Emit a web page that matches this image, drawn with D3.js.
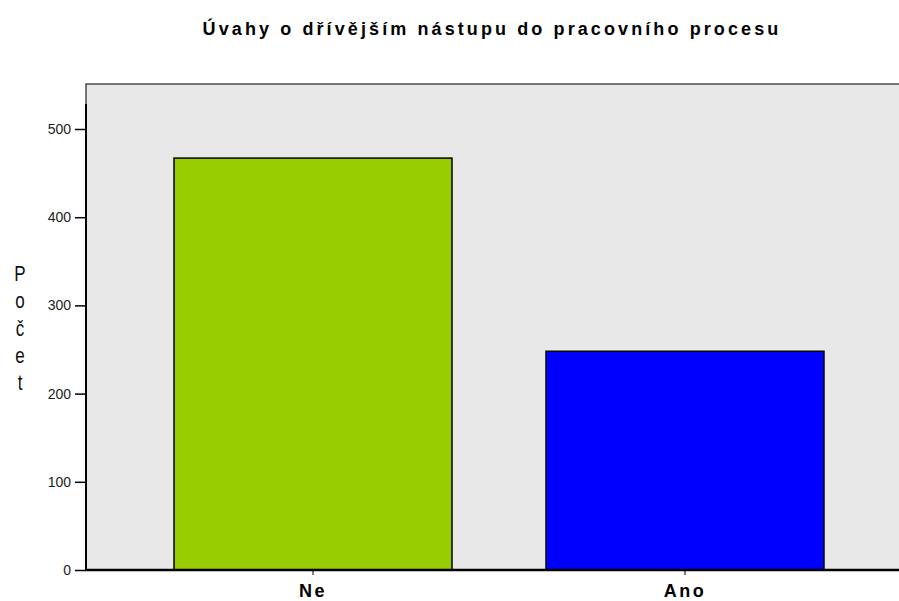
<!DOCTYPE html>
<html lang="cs">
<head>
<meta charset="utf-8">
<title>Úvahy o dřívějším nástupu</title>
<script src="https://d3js.org/d3.v7.min.js"></script>
<style>
  body { margin: 0; background: #fff; }
  text { font-family: "Liberation Sans", Arial, sans-serif; }
</style>
</head>
<body>
<div id="chart"></div>
<script>
// data
var categories = ["Ne", "Ano"];
var counts = [467, 248];
var barColors = ["#99cc00", "#0000ff"];
var yTicks = [0, 100, 200, 300, 400, 500];
var title = "Úvahy o dřívějším nástupu do pracovního procesu";
var yLabel = "Počet";

var w = 899, h = 601;
var mLeft = 86, mTop = 84, mBottom = 570;

var svg = d3.select("#chart").append("svg")
  .attr("width", w)
  .attr("height", h);

// band range runs past the window edge, like the original
var x = d3.scaleBand()
  .domain(categories)
  .range([mLeft, 912])
  .paddingInner(0.2527)
  .paddingOuter(0.2366);

var y = d3.scaleLinear()
  .domain([0, 500])
  .range([mBottom, mBottom - 441]);

// plot background
svg.append("rect")
  .attr("x", mLeft).attr("y", mTop)
  .attr("width", w - mLeft + 5).attr("height", mBottom - mTop)
  .attr("fill", "#e8e8e8")
  .attr("stroke", "#222").attr("stroke-width", 1.2);

// bars
svg.selectAll("rect.bar")
  .data(categories)
  .enter().append("rect")
  .attr("class", "bar")
  .attr("x", function(d) { return x(d); })
  .attr("y", function(d, i) { return y(counts[i]); })
  .attr("width", x.bandwidth())
  .attr("height", function(d, i) { return y(0) - y(counts[i]); })
  .attr("fill", function(d, i) { return barColors[i]; })
  .attr("stroke", "#000").attr("stroke-width", 1.5);

// y axis
var yAxis = svg.append("g")
  .attr("transform", "translate(" + mLeft + ",0)")
  .call(d3.axisLeft(y).tickValues(yTicks).tickSize(11).tickPadding(4));
yAxis.select(".domain").attr("stroke-width", 2)
  .attr("d", "M0," + y(0) + "V" + (y(500) - 25));
yAxis.selectAll(".tick line").attr("stroke-width", 1.5);
yAxis.selectAll(".tick text")
  .attr("font-size", "14px")
  .attr("fill", "#222")
  .style("font-family", "Liberation Sans, Arial, sans-serif");

// x axis
var xAxis = svg.append("g")
  .attr("transform", "translate(0," + mBottom + ")")
  .call(d3.axisBottom(x).tickSize(5).tickPadding(9));
xAxis.select(".domain")
  .attr("stroke-width", 2.5)
  .attr("d", "M" + mLeft + ",0H" + w);
xAxis.selectAll(".tick text")
  .attr("font-size", "18px")
  .attr("font-weight", "bold")
  .attr("letter-spacing", "2.5px")
  .attr("fill", "#000")
  .style("font-family", "Liberation Sans, Arial, sans-serif");

// title
svg.append("text")
  .attr("x", 492).attr("y", 35)
  .attr("text-anchor", "middle")
  .attr("font-size", "18px")
  .attr("font-weight", "bold")
  .attr("letter-spacing", "3.1px")
  .text(title);

// vertical y label, one letter per line, a bit stretched in height
svg.selectAll("text.ylab")
  .data(yLabel.split(""))
  .enter().append("text")
  .attr("class", "ylab")
  .attr("transform", function(d, i) {
    return "translate(20," + (281 + i * 27.3) + ") scale(1,1.3)";
  })
  .attr("text-anchor", "middle")
  .attr("font-size", "17px")
  .attr("fill", "#111")
  .text(function(d) { return d; });
</script>
</body>
</html>
